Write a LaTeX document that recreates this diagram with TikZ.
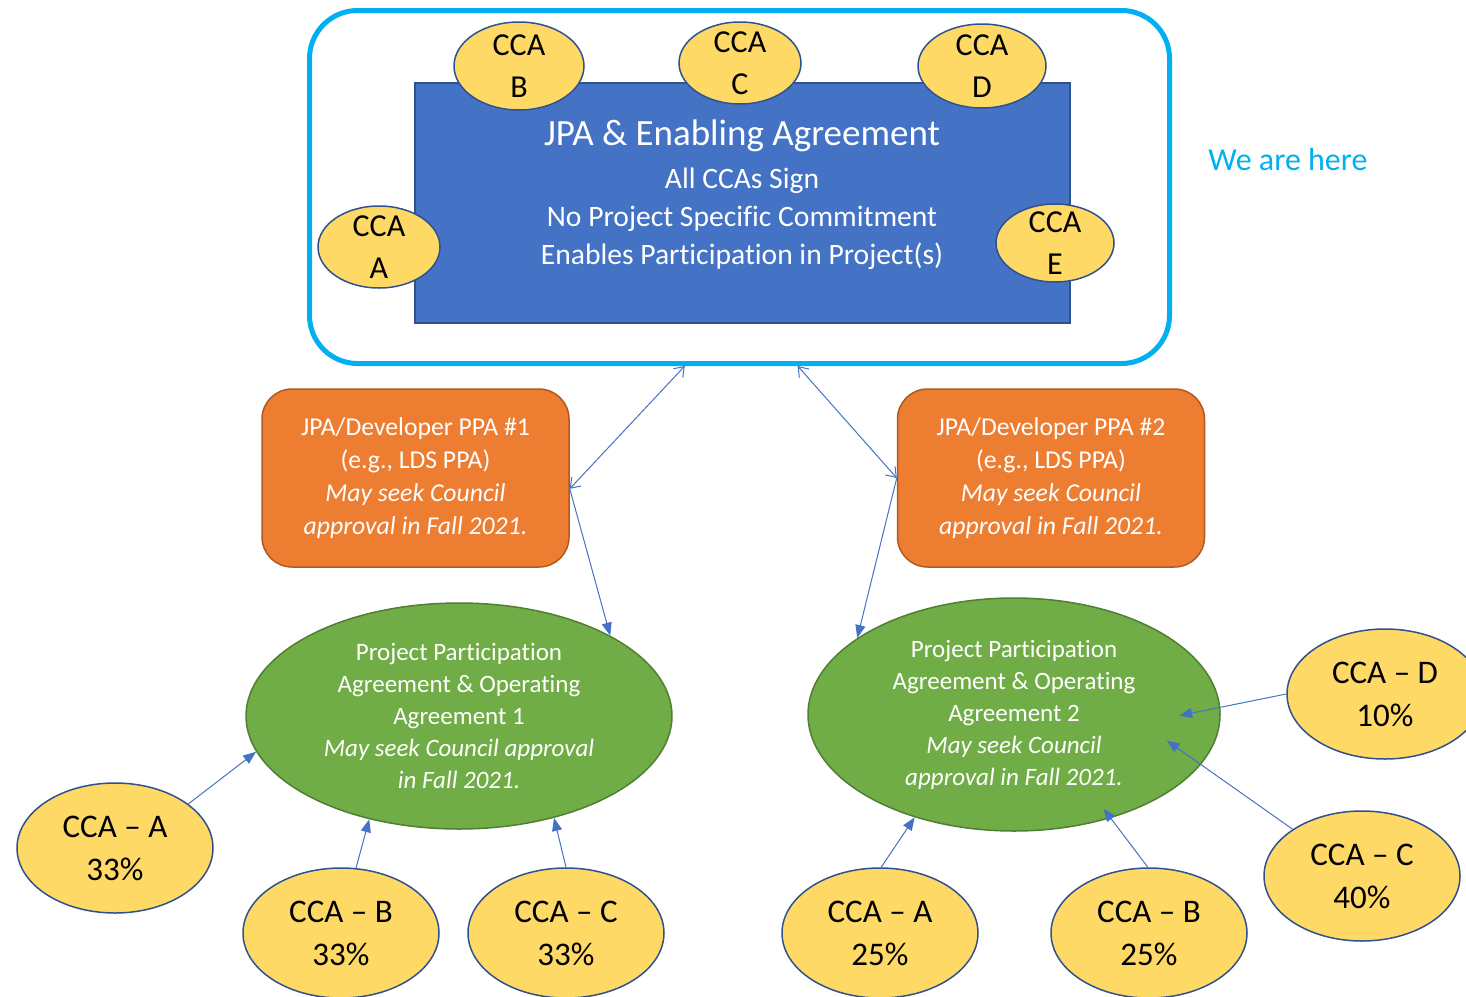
\documentclass[tikz,border=0pt]{standalone}
\usepackage{fontspec}
\setmainfont{Carlito}[Ligatures=NoCommon]
\usepackage{xcolor}
\usepackage{tikz}
\usetikzlibrary{arrows.meta, positioning, shapes.geometric}
\definecolor{FrameCyan}{RGB}{0, 176, 240}
\definecolor{JpaBlue}{RGB}{68, 114, 196}
\definecolor{JpaEdge}{RGB}{47, 82, 143}
\definecolor{CcaYellow}{RGB}{255, 217, 102}
\definecolor{PpaOrange}{RGB}{237, 125, 49}
\definecolor{PpaEdge}{RGB}{174, 90, 33}
\definecolor{PpoaGreen}{RGB}{112, 173, 71}
\definecolor{PpoaEdge}{RGB}{80, 126, 50}
\tikzset{
  ccatop/.style={ellipse, draw=JpaEdge, line width=1.5pt, fill=CcaYellow,
    inner xsep=0pt, inner ysep=-14pt, align=center,
    font=\fontsize{32}{42}\selectfont},
  ccashare/.style={ellipse, draw=JpaEdge, line width=1.5pt, fill=CcaYellow,
    minimum width=196pt, minimum height=130pt, inner sep=0pt, align=center,
    font=\fontsize{33}{43}\selectfont},
  ppabox/.style={rectangle, rounded corners=30pt, draw=PpaEdge, line width=1.5pt,
    fill=PpaOrange, minimum width=307pt, minimum height=178pt, text=white,
    align=center, font=\fontsize{25.7}{33}\selectfont},
  ppoaoval/.style={ellipse, draw=PpoaEdge, line width=1.5pt, fill=PpoaGreen,
    inner sep=0pt, text=white, align=center, font=\fontsize{25}{32}\selectfont},
  jpalink/.style={draw=JpaBlue, line width=1pt,
    {Straight Barb[length=9pt,width=13pt]}-{Straight Barb[length=9pt,width=13pt]}},
  sharelink/.style={draw=JpaBlue, line width=1pt, -{Triangle[length=13pt,width=10pt]}}
}
\begin{document}
\begin{tikzpicture}[x=1pt, y=-1pt]
        \useasboundingbox (0,0) rectangle (1466,996);
        % top: enabling agreement
        \node[
          draw=FrameCyan,
          line width=5pt,
          rounded corners=48pt,
          minimum width=860pt,
          minimum height=353pt
        ] (frame) at (739.5,187) {};
        \node[
          fill=JpaBlue,
          draw=JpaEdge,
          line width=1.5pt,
          minimum width=655pt,
          minimum height=240pt
        ] (jpa) at (742.5,203) {};
        \node[
          text=white,
          align=center,
          font=\fontsize{29.6}{38}\selectfont
        ] (jpatext) at (742,194.5) {
          {\fontsize{37}{38}\selectfont JPA \& Enabling Agreement}\\[5pt]
          All CCAs Sign\\
          No Project Specific Commitment\\
          Enables Participation in Project(s)
        };
        \node[ccatop, minimum width=130pt, minimum height=88pt] (tB) at (519,66) {CCA\\B};
        \node[ccatop, minimum width=122pt, minimum height=82pt] (tC) at (740,63) {CCA\\C};
        \node[ccatop, minimum width=128pt, minimum height=84pt] (tD) at (982,66) {CCA\\D};
        \node[ccatop, minimum width=122pt, minimum height=82pt] (tA) at (379,247) {CCA\\A};
        \node[ccatop, minimum width=118pt, minimum height=78pt] (tE) at (1055,243) {CCA\\E};
        \node[text=FrameCyan, font=\fontsize{32}{38}\selectfont] (here) at (1288,160) {We are here};

        % project PPAs
        \node[ppabox] (ppa1) at (415.5,478) {
          JPA/Developer PPA \#1\\
          (e.g., LDS PPA)\\
          \textit{May seek Council}\\
          \textit{approval in Fall 2021.}
        };
        \node[ppabox] (ppa2) at (1051,478) {
          JPA/Developer PPA \#2\\
          (e.g., LDS PPA)\\
          \textit{May seek Council}\\
          \textit{approval in Fall 2021.}
        };

        % participation agreements
        \node[ppoaoval, minimum width=426pt, minimum height=226pt] (ppoa1) at (459,716) {
          Project Participation\\
          Agreement \& Operating\\
          Agreement 1\\
          \textit{May seek Council approval}\\
          \textit{in Fall 2021.}
        };
        \node[ppoaoval, minimum width=412pt, minimum height=233pt] (ppoa2) at (1014,714.5) {
          Project Participation\\
          Agreement \& Operating\\
          Agreement 2\\
          \textit{May seek Council}\\
          \textit{approval in Fall 2021.}
        };

        % shares
        \node[ccashare] (sA1) at (115,848) {CCA – A\\33\%};
        \node[ccashare] (sB1) at (341,933) {CCA – B\\33\%};
        \node[ccashare] (sC1) at (566,933) {CCA – C\\33\%};
        \node[ccashare] (sA2) at (880,933) {CCA – A\\25\%};
        \node[ccashare] (sB2) at (1149,933) {CCA – B\\25\%};
        \node[ccashare] (sC2) at (1362,876) {CCA – C\\40\%};
        \node[ccashare] (sD2) at (1385,694) {CCA – D\\10\%};

        \draw[jpalink] (frame.-107.5) -- (ppa1.-4);
        \draw[jpalink] (frame.-72.4) -- (ppa2.west);
        \draw[sharelink] (ppa1.-4) -- (ppoa1.28.2);
        \draw[sharelink] (ppa2.west) -- (ppoa2.154.8);
        \draw[sharelink] (sA1.31.6) -- (ppoa1.190.4);
        \draw[sharelink] (sB1.77.5) -- (ppoa1.229.1);
        \draw[sharelink] (sC1.90) -- (ppoa1.313.6);
        \draw[sharelink] (sA2.89) -- (ppoa2.226.4);
        \draw[sharelink, shorten >=-12pt] (sB2.91.7) -- (ppoa2.-47);
        \draw[sharelink, shorten >=-42pt] (sC2.146.3) -- (ppoa2.-15.8);
        \draw[sharelink, shorten >=-42pt] (sD2.west) -- (ppoa2.2);
      \end{tikzpicture}
\end{document}
